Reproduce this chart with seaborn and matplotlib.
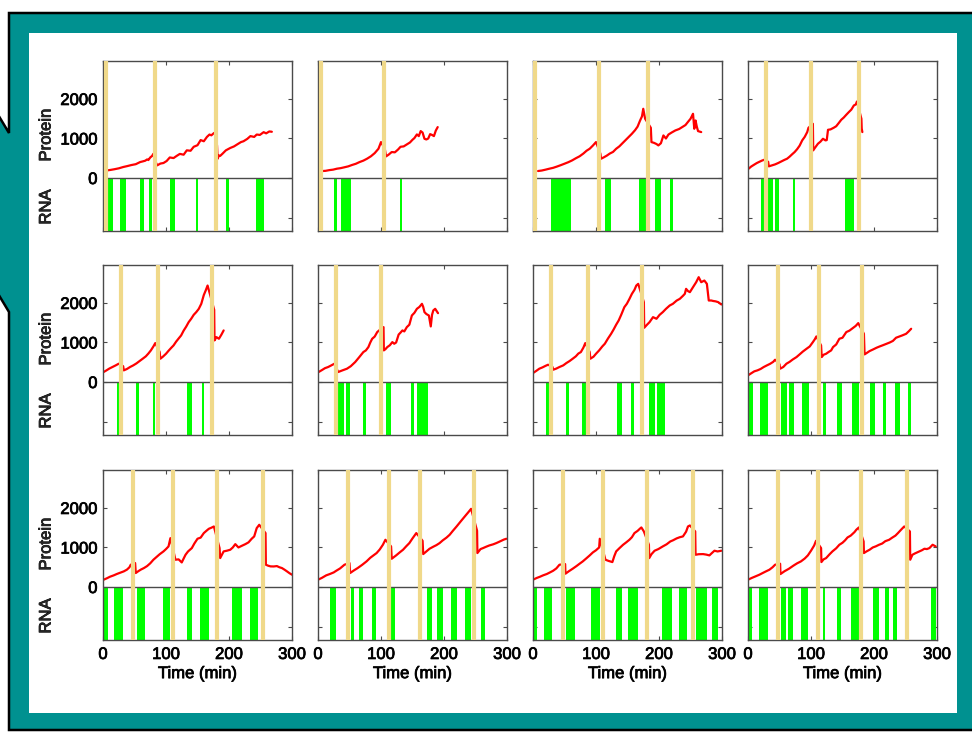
import matplotlib
matplotlib.use('Agg')
import matplotlib.pyplot as plt
from matplotlib.patches import Polygon, Rectangle
import matplotlib.patheffects as pe
import seaborn as sns

# ---------------- data ----------------
div_1 = [4, 82, 179]
rna_on_1 = [8, 27.5, 59, 72.5, 106.5, 147, 194.5, 242.5]
rna_off_1 = [15.5, 36.5, 65.5, 78, 114.5, 151, 200, 255.5]
time_1 = [7, 12, 18, 25, 32, 38, 45, 52, 59, 63, 67, 70, 72, 75, 78, 80, 83, 86, 91, 96,
          101, 106, 112, 117, 122, 128, 133, 139, 144, 150, 155, 160, 165, 169, 172, 176, 178, 181, 182, 184,
          186, 190, 195, 202, 208, 214, 219, 223, 229, 234, 240, 244, 249, 255, 259, 264, 268]
protein_1 = [194, 205, 222, 245, 278, 300, 328, 350, 404, 420, 438, 470, 455, 520, 560, 614, 429, 320, 365, 380,
             430, 520, 505, 560, 610, 590, 700, 690, 790, 830, 960, 930, 1040, 1100, 1080, 1136, 1150, 820, 488, 572,
             560, 620, 700, 760, 800, 860, 909, 930, 990, 1060, 1040, 1100, 1090, 1160, 1130, 1178, 1170]

div_2 = [5, 105]
rna_on_2 = [26, 36.5, 129.5]
rna_off_2 = [30, 53, 133.5]
time_2 = [7, 12, 18, 24, 30, 36, 42, 48, 54, 60, 66, 72, 78, 84, 90, 96, 100, 106, 108, 112,
          117, 122, 127, 131, 136, 141, 146, 150, 153, 157, 160, 163, 166, 169, 172, 175, 178, 181, 184, 187, 190]
protein_2 = [177, 182, 200, 212, 236, 250, 272, 295, 330, 360, 404, 440, 490, 550, 630, 741, 909, 741, 547, 590,
             657, 650, 720, 790, 800, 850, 900, 968, 1010, 1103, 1060, 1187, 1150, 993, 975, 1000, 1110, 1090, 1060, 1200, 1288]

div_3 = [3, 104, 183]
rna_on_3 = [28, 114, 168, 193, 218]
rna_off_3 = [60, 124, 180, 203, 223]
time_3 = [8, 14, 20, 26, 32, 38, 44, 50, 56, 62, 68, 74, 80, 85, 90, 95, 100, 107, 108, 112,
          117, 122, 127, 132, 137, 142, 147, 152, 157, 162, 166, 170, 173, 175, 178, 187, 188, 192, 196, 199,
          203, 207, 211, 215, 220, 226, 232, 238, 242, 246, 250, 252, 254, 256, 258, 260, 262, 267]
protein_3 = [177, 190, 212, 236, 258, 290, 325, 362, 400, 445, 500, 550, 620, 690, 741, 820, 909, 614, 488, 520,
             565, 620, 660, 740, 800, 880, 960, 1040, 1120, 1210, 1300, 1456, 1560, 1751, 1498, 1271, 909, 890, 860, 825,
             880, 1077, 1000, 1100, 1150, 1204, 1240, 1300, 1340, 1420, 1498, 1560, 1625, 1246, 1456, 1300, 1187, 1162]

div_4 = [28.5, 99.5, 175.5]
rna_on_4 = [20, 31.5, 43.5, 71, 154.5]
rna_off_4 = [25.5, 39.5, 49, 75, 169]
time_4 = [1, 5, 10, 14, 18, 22, 26, 32, 33, 38, 43, 48, 53, 58, 62, 66, 70, 74, 78, 82,
          86, 90, 94, 96, 103, 103.5, 107, 111, 115, 119, 123, 125, 127, 131, 136, 140, 144, 148, 152, 156,
          160, 164, 168, 171, 173, 180, 180.5, 181.5]
protein_4 = [236, 290, 340, 379, 410, 440, 463, 410, 295, 320, 345, 380, 420, 460, 488, 540, 600, 657, 730, 820,
             951, 1040, 1162, 1271, 1372, 699, 780, 867, 920, 993, 951, 960, 1220, 1230, 1271, 1310, 1390, 1473, 1530, 1600,
             1667, 1730, 1835, 1860, 1936, 1498, 1250, 1162]

div_5 = [29, 87, 172.5]
rna_on_5 = [21.5, 53, 79, 134, 156.5]
rna_off_5 = [25.5, 57, 83, 142, 161]
time_5 = [1, 5, 10, 15, 20, 25, 32, 33, 38, 43, 48, 53, 58, 63, 68, 72, 76, 80, 83, 90,
          91, 95, 100, 104, 108, 112, 116, 120, 124, 128, 132, 136, 140, 144, 148, 152, 156, 160, 163, 166,
          176.5, 177, 180, 184, 188, 191.5]
protein_5 = [253, 290, 340, 380, 420, 463, 400, 295, 330, 380, 421, 470, 530, 589, 650, 720, 800, 900, 985, 758,
             589, 640, 715, 790, 860, 926, 1020, 1100, 1178, 1300, 1400, 1515, 1600, 1700, 1768, 1850, 1978, 2200, 2315, 2441,
             1827, 1052, 1136, 1094, 1200, 1305]

div_6 = [29, 100.5]
rna_on_6 = [32, 44, 71.5, 108.5, 147, 156.5]
rna_off_6 = [42, 50, 75.5, 116.5, 152, 174.5]
time_6 = [1, 6, 11, 16, 21, 26, 32, 38, 46, 52, 59, 65, 72, 76, 80, 83, 86, 90, 94, 97,
          104, 104.5, 107, 110, 114, 118, 121, 124, 128, 131, 134, 137, 141, 145, 149, 153, 157, 161, 165, 167,
          169, 172, 176, 179, 181, 183, 186, 190.5]
protein_6 = [253, 300, 350, 379, 420, 463, 253, 290, 337, 400, 505, 620, 758, 800, 884, 1000, 1094, 1150, 1263, 1305,
             1389, 800, 830, 884, 930, 1010, 968, 1000, 1200, 1250, 1305, 1280, 1389, 1450, 1683, 1750, 1852, 1900, 1978, 1900,
             1768, 1720, 1683, 1406, 1700, 1810, 1852, 1742]

div_7 = [28.5, 87, 172.5]
rna_on_7 = [21, 52.5, 78, 133, 156, 184, 197]
rna_off_7 = [25.5, 57, 83.5, 141, 161, 193, 209]
time_7 = [0, 5, 10, 15, 20, 24, 31, 32, 37, 42, 48, 53, 58, 63, 68, 72, 76, 80, 83, 90,
          91, 96, 100, 105, 110, 114, 119, 124, 128, 132, 136, 140, 145, 149, 153, 157, 161, 164, 167, 176,
          176.5, 181, 185, 190.5, 196, 201, 206, 211, 217, 222, 228, 233, 238, 241, 243, 246, 249, 254, 259, 263,
          267, 272, 276, 279, 283, 286, 290, 294, 299]
protein_7 = [227, 280, 337, 370, 410, 438, 380, 311, 340, 380, 421, 480, 530, 589, 650, 720, 758, 870, 985, 758,
             589, 640, 715, 800, 900, 968, 1100, 1220, 1330, 1450, 1557, 1700, 1894, 1980, 2100, 2231, 2330, 2441, 2483, 2020,
             1372, 1450, 1515, 1641, 1600, 1700, 1768, 1850, 1936, 1978, 2060, 2104, 2180, 2231, 2357, 2300, 2273, 2400, 2525, 2652,
             2525, 2567, 2483, 2062, 2062, 2050, 2040, 2020, 1961]

div_8 = [47.5, 112, 180.5]
rna_on_8 = [0, 18.5, 53, 64.5, 85, 119, 141, 164.5, 193, 214, 233, 253.5]
rna_off_8 = [7.5, 31, 62, 72.5, 97, 124, 148.5, 175.5, 201.5, 219.5, 240.5, 259]
time_8 = [0, 5, 10, 15, 20, 25, 30, 35, 40, 43, 50, 51, 56, 61, 66, 71, 77, 82, 87, 93,
          98, 103, 106, 108.5, 116, 117, 120, 124, 128, 132, 135, 140, 145, 150, 156, 161, 167, 171, 175, 184,
          185, 189, 193, 198, 204, 209, 214, 220, 225, 230, 235, 240, 245, 251, 255, 259]
protein_8 = [168, 220, 270, 295, 330, 380, 421, 460, 510, 564, 450, 337, 380, 463, 510, 570, 631, 700, 770, 842,
             900, 1010, 1080, 1153, 926, 631, 690, 715, 760, 800, 884, 950, 1094, 1120, 1263, 1300, 1372, 1420, 1490, 1220,
             699, 740, 783, 820, 867, 900, 930, 968, 1000, 1040, 1120, 1150, 1180, 1220, 1280, 1347]

div_9 = [48, 111.5, 181.5, 253.5]
rna_on_9 = [1, 17.5, 54.5, 94.5, 134, 154.5, 205, 233]
rna_off_9 = [8, 31.5, 67, 106, 142, 167.5, 220.5, 245.5]
time_9 = [1, 6, 11, 17, 22, 27, 33, 38, 42, 44, 51, 52, 56, 60, 65, 70, 75, 80, 85, 90,
          96, 100, 104, 107, 115, 120, 125, 128, 131, 135, 141, 145, 150, 155, 160, 164, 168, 172, 176, 185,
          186, 191.5, 197, 202, 206, 210, 215, 220, 226, 231, 236, 240, 244, 248, 258, 258.5, 262, 266, 271, 276,
          280, 284, 288, 292, 296, 300]
protein_9 = [185, 220, 260, 295, 330, 360, 396, 440, 500, 564, 606, 354, 400, 440, 480, 530, 600, 690, 760, 830,
             901, 960, 1027, 1237, 690, 700, 622, 720, 816, 900, 985, 1100, 1221, 1250, 1364, 1420, 1473, 1500, 1532, 985,
             732, 901, 920, 943, 1000, 1085, 1001, 1040, 1085, 1130, 1221, 1280, 1490, 1574, 1364, 564, 540, 522, 520, 530,
             500, 480, 440, 396, 350, 311]

div_10 = [47, 112.5, 162.5, 248]
rna_on_10 = [19.5, 52, 65, 86, 115, 173.5, 189.5, 210.5, 234, 258]
rna_off_10 = [29, 56.5, 71.5, 92.5, 123, 181.5, 198.5, 220.5, 243.5, 265]
time_10 = [0, 6, 13, 19, 25, 29, 35, 42, 50, 51, 57, 63, 70, 77, 83, 88, 93, 98, 103, 107,
           116, 117, 124, 130, 135, 140, 145, 150, 156, 166, 167, 172, 177, 183, 188, 193, 198, 204, 209, 214,
           220, 226, 233, 238, 243, 252.5, 253, 258, 262, 267, 272, 278, 283, 287, 291, 295, 299]
protein_10 = [185, 230, 295, 330, 370, 412, 470, 564, 606, 354, 420, 480, 560, 648, 740, 800, 859, 950, 1069, 1195,
              1027, 715, 800, 880, 943, 1030, 1111, 1230, 1364, 1170, 833, 900, 968, 1020, 1060, 1111, 1180, 1250, 1322, 1420,
              1532, 1650, 1785, 1880, 1978, 1423, 859, 960, 985, 1020, 1052, 1080, 1111, 1140, 1170, 1200, 1221]

div_11 = [47, 110.5, 180.5, 253.5]
rna_on_11 = [0, 17, 53, 91.5, 132, 151, 205, 232, 258, 284]
rna_off_11 = [7, 30.5, 66, 106, 141, 167, 220.5, 245, 276, 293.5]
time_11 = [0, 6, 11, 16, 22, 27, 32, 37, 42, 51, 51.5, 57, 63, 69, 74, 79, 85, 90, 95, 100,
           105, 106, 115, 120, 126, 129, 132, 137, 143, 148, 153, 157, 161, 166, 170, 172, 176, 184, 184.5, 188,
           193, 199, 206, 212, 218, 222, 228, 233, 238, 243, 246, 249, 257.5, 258, 263, 270, 275, 280, 284, 288,
           293, 299]
protein_11 = [185, 230, 260, 295, 330, 370, 412, 470, 564, 581, 337, 400, 463, 530, 590, 648, 730, 800, 875, 930,
              1001, 1221, 690, 660, 631, 780, 901, 980, 1069, 1130, 1195, 1260, 1364, 1420, 1480, 1507, 1406, 1069, 732, 830,
              918, 960, 1027, 1080, 1153, 1180, 1230, 1260, 1280, 1400, 1532, 1557, 1406, 816, 830, 833, 820, 800, 860, 918,
              900, 918]

div_12 = [47, 111.5, 180, 253]
rna_on_12 = [0, 18, 53, 64, 84.5, 118.5, 140.5, 164, 199, 217.5, 229.5, 290]
rna_off_12 = [7, 31, 60, 72, 96, 123, 147.5, 175.5, 208.5, 224.5, 236.5, 298.5]
time_12 = [0, 6, 12, 18, 24, 29, 34, 39, 43, 51, 51.5, 58, 65, 72, 78, 84, 90, 95, 100, 105,
           108, 116, 116.5, 120, 124, 129, 134, 140, 145, 150, 154, 158, 163, 169, 172, 176, 183.5, 184, 188, 193,
           198, 203, 208, 213, 218, 224, 229, 234, 238, 243, 248, 257, 257.5, 261, 265, 272, 276, 280, 284, 288,
           293, 298]
protein_12 = [185, 230, 270, 311, 360, 400, 438, 500, 564, 590, 328, 400, 463, 540, 600, 648, 720, 800, 918, 1050,
              1170, 985, 631, 700, 732, 820, 901, 980, 1069, 1120, 1180, 1254, 1300, 1389, 1450, 1507, 1153, 859, 900, 943,
              1000, 1030, 1069, 1100, 1160, 1195, 1250, 1300, 1364, 1450, 1532, 1406, 690, 816, 850, 901, 930, 968, 960, 985,
              1069, 1027]

x_ticks = [0, 100, 200, 300]
y_ticks = [-1000, 0, 1000, 2000]
y_tick_labels = ['', '0', '1000', '2000']
x_label = 'Time (min)'
protein_label = 'Protein'
rna_label = 'RNA'

# ---------------- styling ----------------
sns.set_theme(style='white')
plt.rcParams['font.family'] = ['Liberation Sans', 'DejaVu Sans']

TEAL = '#009190'
RED = '#ff0000'
GREEN = '#00ff00'
GOLD = '#f0d98a'
FRAME = '#4a4a4a'
HEAVY = [pe.withStroke(linewidth=0.55, foreground='black')]

W, H = 972, 736
fig = plt.figure(figsize=(W / 100, H / 100), dpi=100)
fig.patch.set_facecolor('white')

# background frame (callout shape pointing off the left edge)
bg = fig.add_axes([0, 0, 1, 1], zorder=-10)
bg.set_xlim(0, W)
bg.set_ylim(H, 0)
bg.axis('off')
outline = [(9, 13), (985, 13), (985, 730), (9, 730), (9, 312), (0, 297), (-10, 280),
           (-10, 101), (0, 118), (9, 133)]
bg.add_patch(Polygon(outline, closed=True, facecolor=TEAL, edgecolor='black', lw=1.8))
bg.add_patch(Rectangle((29, 33), 957 - 29, 713 - 33, facecolor='white', edgecolor='none'))

panels = [
    (time_1, protein_1, div_1, rna_on_1, rna_off_1),
    (time_2, protein_2, div_2, rna_on_2, rna_off_2),
    (time_3, protein_3, div_3, rna_on_3, rna_off_3),
    (time_4, protein_4, div_4, rna_on_4, rna_off_4),
    (time_5, protein_5, div_5, rna_on_5, rna_off_5),
    (time_6, protein_6, div_6, rna_on_6, rna_off_6),
    (time_7, protein_7, div_7, rna_on_7, rna_off_7),
    (time_8, protein_8, div_8, rna_on_8, rna_off_8),
    (time_9, protein_9, div_9, rna_on_9, rna_off_9),
    (time_10, protein_10, div_10, rna_on_10, rna_off_10),
    (time_11, protein_11, div_11, rna_on_11, rna_off_11),
    (time_12, protein_12, div_12, rna_on_12, rna_off_12),
]

col_left = [103, 318, 533, 748]
row_top = [61, 265, 470]
pw, ph = 189, 170
YMIN, YMAX = -1340, 2960
zero_frac = (0 - YMIN) / (YMAX - YMIN)

for i, (t, p, divs, on, off) in enumerate(panels):
    r, c = divmod(i, 4)
    L, T = col_left[c], row_top[r]
    ax = fig.add_axes([L / W, 1 - (T + ph) / H, pw / W, ph / H])
    ax.set_facecolor('white')
    for s, e in zip(on, off):
        ax.axvspan(s, e, ymin=0, ymax=zero_frac, color=GREEN, lw=0, zorder=1)
    sns.lineplot(x=t, y=p, ax=ax, color=RED, lw=1.6, sort=False, estimator=None, zorder=2)
    ax.axhline(0, color=FRAME, lw=1.0, zorder=3)
    for d in divs:
        ax.axvline(d, color=GOLD, lw=3.0, zorder=4)
    ax.set_xlim(0, 300)
    ax.set_ylim(YMIN, YMAX)
    ax.set_xticks(x_ticks)
    ax.set_yticks(y_ticks)
    ax.set_yticklabels(y_tick_labels)
    ax.tick_params(direction='in', length=3, width=0.8, color=FRAME,
                   top=True, right=True, left=True, bottom=True,
                   labelleft=(c == 0), labelbottom=(r == 2),
                   labelsize=12, labelcolor='black')
    ax.tick_params(axis='y', pad=4)
    ax.tick_params(axis='x', pad=5)
    for lab in ax.get_xticklabels() + ax.get_yticklabels():
        lab.set_path_effects(HEAVY)
    for sp in ax.spines.values():
        sp.set_color(FRAME)
        sp.set_linewidth(1.0)
        sp.set_visible(True)
    ax.set_xlabel('')
    ax.set_ylabel('')
    if r == 2:
        ax.set_xlabel(x_label, fontsize=12, labelpad=3, color='black', path_effects=HEAVY)
    if c == 0:
        fig.text(46 / W, 1 - (T + 74) / H, protein_label, rotation=90, fontsize=12,
                 ha='center', va='center', path_effects=HEAVY)
        fig.text(46 / W, 1 - (T + 146) / H, rna_label, rotation=90, fontsize=12,
                 ha='center', va='center', path_effects=HEAVY)

fig.savefig('out.png', dpi=100, facecolor='white')
